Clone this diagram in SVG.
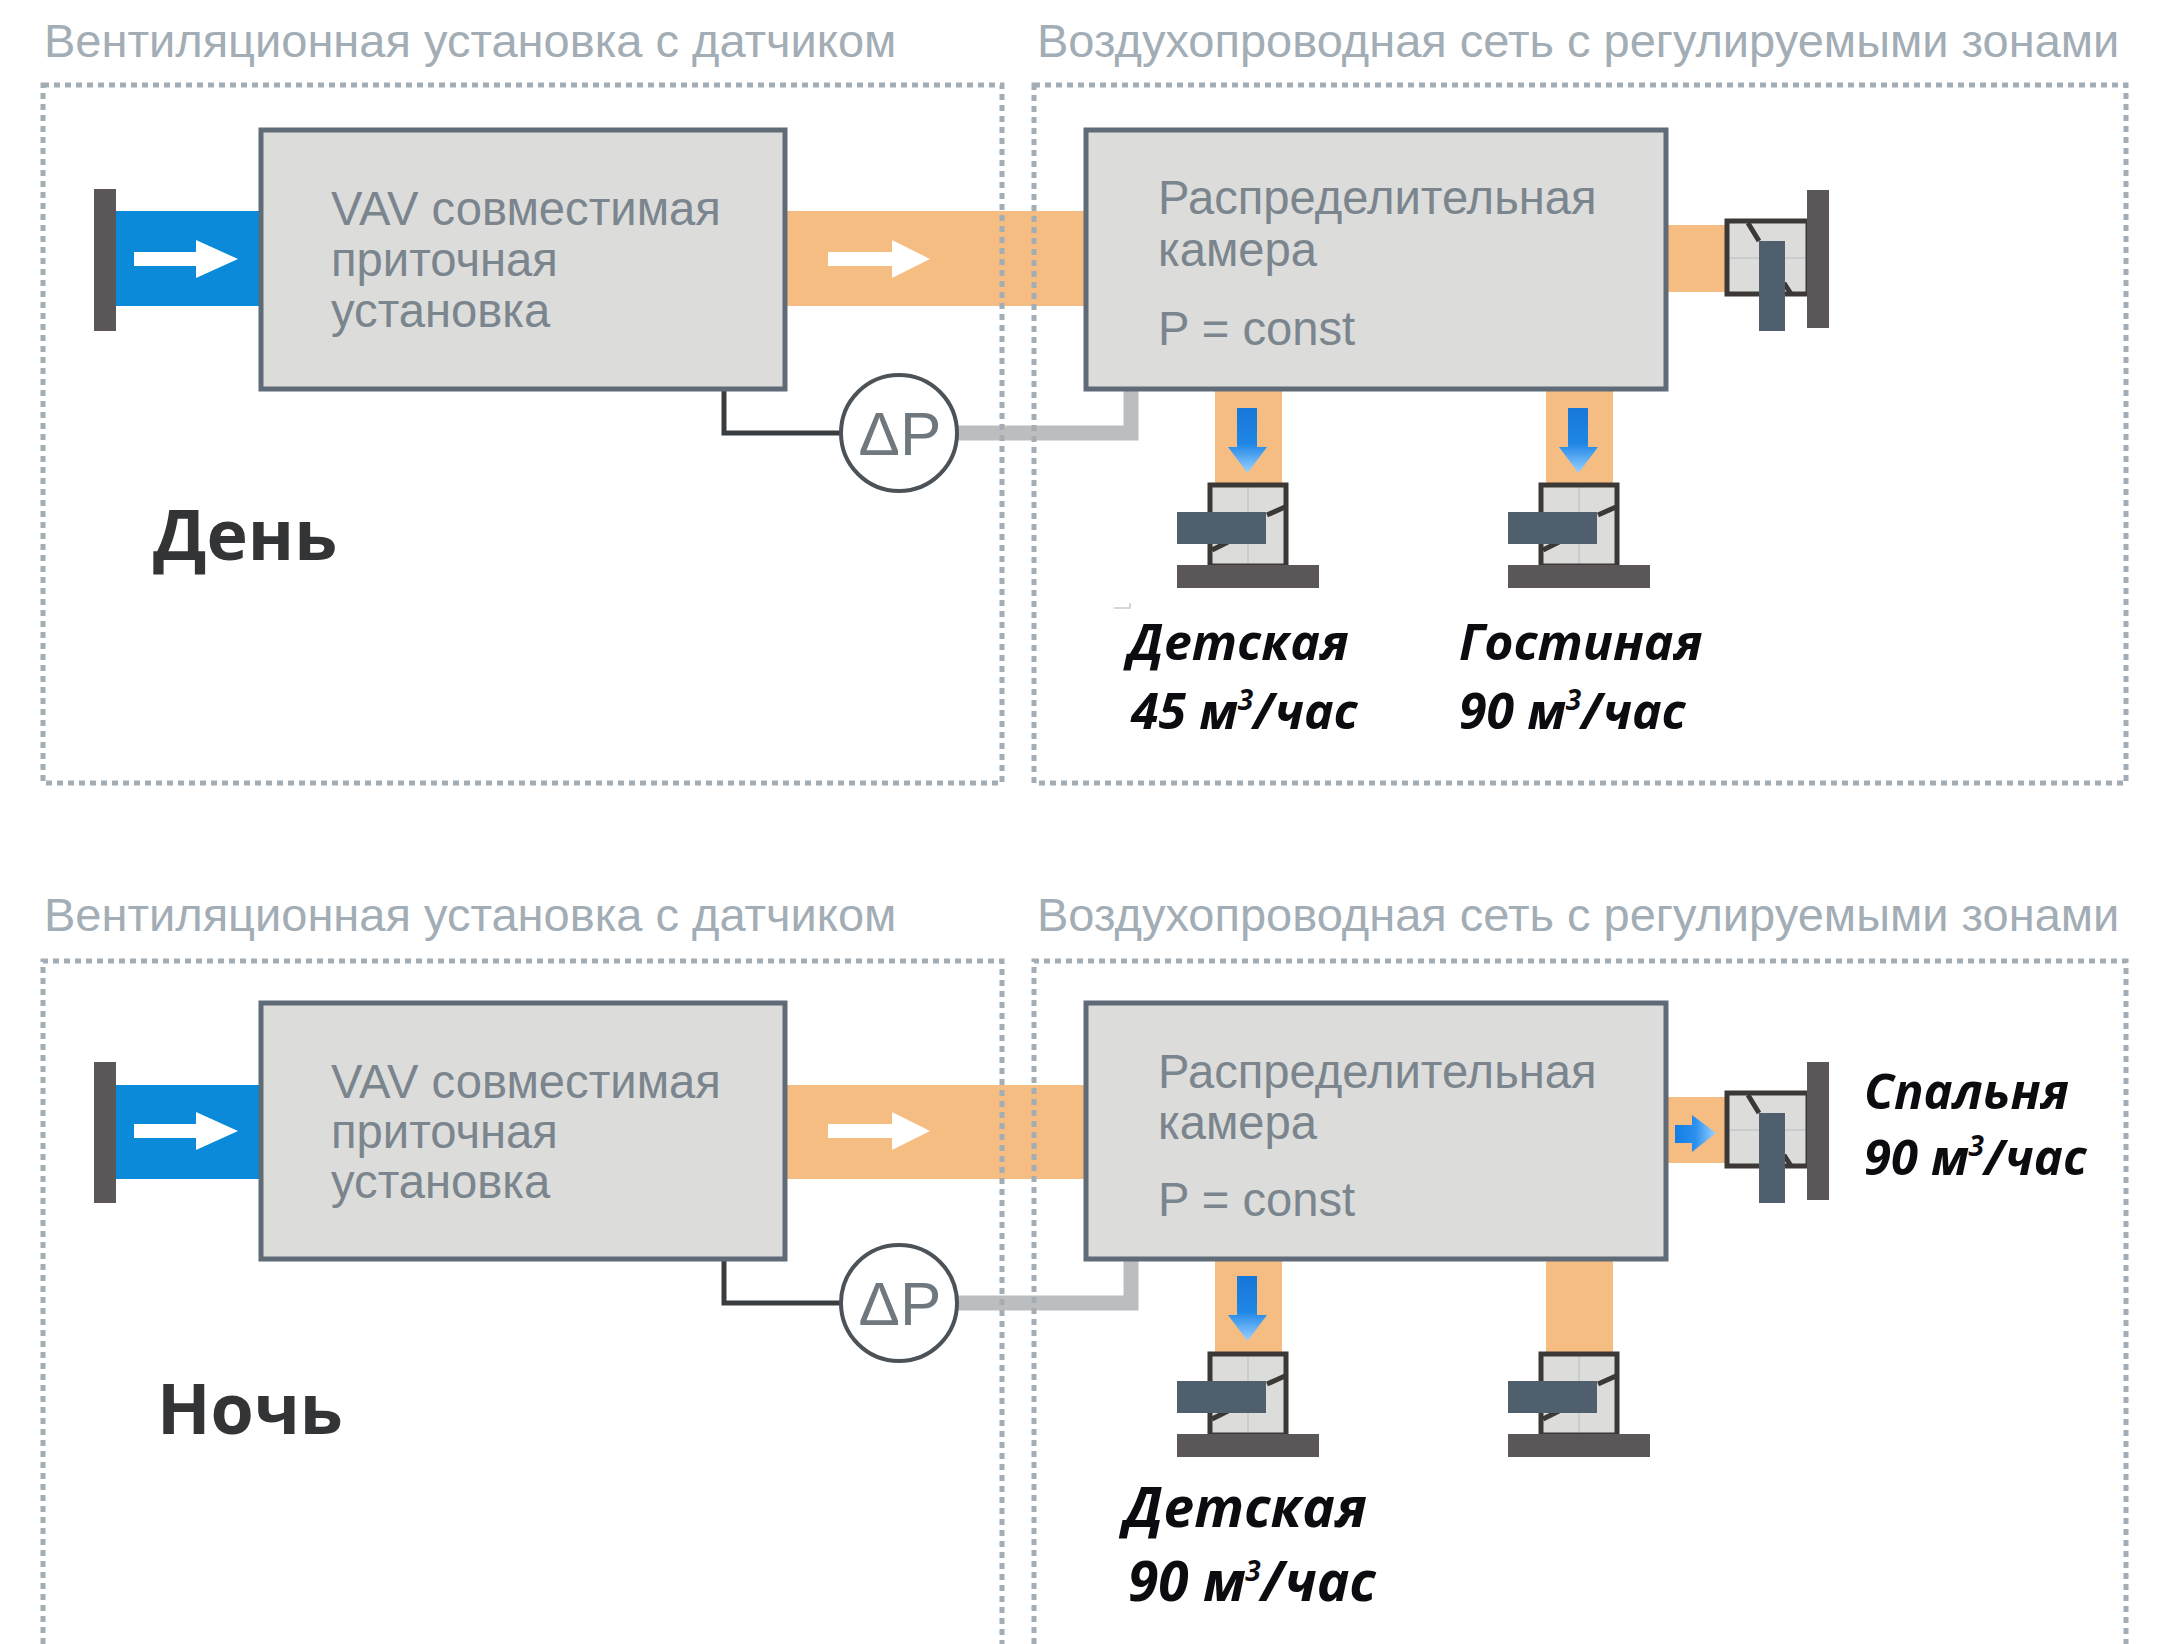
<svg xmlns="http://www.w3.org/2000/svg" width="2162" height="1644" viewBox="0 0 2162 1644">
<style>
.title{font:400 47px "Liberation Sans",Arial,sans-serif;fill:#a2adb5}
.box{fill:#dcdcdb;stroke:#5f6b76;stroke-width:5}
.lbl{font:400 47.2px "Liberation Sans",Arial,sans-serif;fill:#7b858d}
.dot{fill:none;stroke:#a3adb5;stroke-width:5;stroke-dasharray:6 5}
.orange{fill:#f5bd82}
.wall{fill:#5b5759}
.blade{fill:#4f5f6e}
.dp{font:400 62px "Liberation Sans",Arial,sans-serif;fill:#6f787f}
.mode{font:700 70px "Open Sans","Noto Sans",sans-serif;fill:#333436}
.room{font:italic 700 50px "Open Sans","Noto Sans",sans-serif;fill:#0c0c10}
.big{font-size:55px}
.side{font-size:49px}
.sup{font-size:28px}
.dline{fill:none;stroke:#3b3836;stroke-width:5}
.thin{fill:none;stroke:#c4c6c8;stroke-width:1.5}
</style>
<defs>
<linearGradient id="gd" x1="0" y1="0" x2="0" y2="1"><stop offset="0" stop-color="#1677d8"/><stop offset="0.55" stop-color="#1f86e6"/><stop offset="1" stop-color="#9ad2ff"/></linearGradient>
<linearGradient id="gr" x1="0" y1="0" x2="1" y2="0"><stop offset="0" stop-color="#127ee6"/><stop offset="0.5" stop-color="#2b90ee"/><stop offset="1" stop-color="#9ad2ff"/></linearGradient>
<g id="damperDown">
<rect x="0" y="0" width="76" height="81" fill="#dcdcdb"/>
<path class="thin" d="M38 0V81"/>
<rect x="0" y="0" width="76" height="81" class="dline"/>
<path class="dline" d="M57 30L75 22M2 65L18 57"/>
<rect x="-33" y="27" width="89" height="32" class="blade"/>
<rect x="-33" y="80" width="142" height="23" class="wall"/>
</g>
<g id="damperRight">
<rect x="0" y="0" width="81" height="73" fill="#dcdcdb"/>
<path class="thin" d="M0 37H81"/>
<rect x="0" y="0" width="81" height="73" class="dline"/>
<path class="dline" d="M21 2L32 20M57 62L64 73"/>
<rect x="32" y="20" width="26" height="90" class="blade"/>
<rect x="80" y="-31" width="22" height="138" class="wall"/>
</g>
<polygon id="arrowDown" points="9,0 29,0 29,39 39,39 19.5,65 0,39 9,39" fill="url(#gd)"/>
<polygon id="arrowRight" points="0,10 17,10 17,0 41,18 17,37 17,28 0,28" fill="url(#gr)"/>
</defs>
<rect width="2162" height="1644" fill="#fff"/>

<g id="connectors">
<g id="ducts-day">
<rect x="116" y="211" width="145" height="95" fill="#0a8ad8"/>
<rect class="orange" x="785" y="211" width="300" height="95"/>
<rect class="orange" x="1668" y="225" width="58" height="67"/>
<rect class="orange" x="1215" y="389" width="67" height="96"/>
<rect class="orange" x="1546" y="389" width="67" height="96"/>
<path d="M724 389V433H841" fill="none" stroke="#3a3d40" stroke-width="5"/>
<path d="M958 433H1131V389" fill="none" stroke="#bcbdbe" stroke-width="15"/>
</g>
<g id="ducts-night">
<rect x="116" y="1085" width="145" height="94" fill="#0a8ad8"/>
<rect class="orange" x="785" y="1085" width="300" height="94"/>
<rect class="orange" x="1668" y="1097" width="58" height="66"/>
<rect class="orange" x="1215" y="1259" width="67" height="97"/>
<rect class="orange" x="1546" y="1259" width="67" height="97"/>
<path d="M724 1259V1303H841" fill="none" stroke="#3a3d40" stroke-width="5"/>
<path d="M958 1303H1131V1259" fill="none" stroke="#bcbdbe" stroke-width="15"/>
</g>
</g>

<g id="frames">
<rect class="dot" x="43" y="85" width="959" height="698"/>
<rect class="dot" x="1034" y="85" width="1092" height="698"/>
<path class="dot" d="M43 1644V961H1002V1644"/>
<path class="dot" d="M1034 1644V961H2126V1644"/>
</g>

<g id="day-intake"><rect class="wall" x="94" y="189" width="22" height="142"/><polygon fill="#fff" points="134,252 196,252 196,240 238,259 196,278 196,266 134,266"/></g>
<g id="day-ahu"><rect class="box" x="261" y="130" width="524" height="259"/>
<text class="lbl" x="331" y="225">VAV совместимая</text><text class="lbl" x="331" y="276">приточная</text><text class="lbl" x="331" y="327">установка</text></g>
<polygon id="day-flow" fill="#fff" points="828,252 892,252 892,240 930,259 892,278 892,266 828,266"/>
<g id="day-plenum"><rect class="box" x="1086" y="130" width="580" height="259"/>
<text class="lbl" x="1158" y="214">Распределительная</text><text class="lbl" x="1158" y="266">камера</text><text class="lbl" x="1158" y="345">P = const</text></g>
<g id="day-sensor"><circle cx="899" cy="433" r="58" fill="#fff" stroke="#4b5258" stroke-width="4"/><text class="dp" x="900" y="455" text-anchor="middle">ΔP</text></g>
<use id="day-damper-right" href="#damperRight" x="1727" y="221"/>
<use id="day-damper-1" href="#damperDown" x="1210" y="485"/>
<use id="day-damper-2" href="#damperDown" x="1541" y="485"/>
<use id="day-arrow-1" href="#arrowDown" x="1228" y="408"/>
<use id="day-arrow-2" href="#arrowDown" x="1559" y="408"/>
<path id="day-mark" d="M1114 608H1130V603" fill="none" stroke="#c9c9c9" stroke-width="1.5"/>

<g id="day-titles"><text class="title" x="44" y="57">Вентиляционная установка с датчиком</text><text class="title" x="1037" y="57">Воздухопроводная сеть с регулируемыми зонами</text></g>
<text id="day-mode" class="mode" x="153" y="560">День</text>
<g id="day-room-1"><text class="room" x="1128" y="660">Детская</text><text class="room" x="1131" y="729">45 м<tspan class="sup" dy="-19">3</tspan><tspan dy="19">/час</tspan></text></g>
<g id="day-room-2"><text class="room" x="1459" y="660">Гостиная</text><text class="room" x="1459" y="729">90 м<tspan class="sup" dy="-19">3</tspan><tspan dy="19">/час</tspan></text></g>

<g id="night-intake"><rect class="wall" x="94" y="1062" width="22" height="141"/><polygon fill="#fff" points="134,1124 196,1124 196,1112 238,1131 196,1150 196,1138 134,1138"/></g>
<g id="night-ahu"><rect class="box" x="261" y="1003" width="524" height="256"/>
<text class="lbl" x="331" y="1098">VAV совместимая</text><text class="lbl" x="331" y="1148">приточная</text><text class="lbl" x="331" y="1198">установка</text></g>
<polygon id="night-flow" fill="#fff" points="828,1124 892,1124 892,1112 930,1131 892,1150 892,1138 828,1138"/>
<g id="night-plenum"><rect class="box" x="1086" y="1003" width="580" height="256"/>
<text class="lbl" x="1158" y="1088">Распределительная</text><text class="lbl" x="1158" y="1139">камера</text><text class="lbl" x="1158" y="1216">P = const</text></g>
<g id="night-sensor"><circle cx="899" cy="1303" r="58" fill="#fff" stroke="#4b5258" stroke-width="4"/><text class="dp" x="900" y="1325" text-anchor="middle">ΔP</text></g>
<use id="night-damper-right" href="#damperRight" x="1727" y="1093"/>
<use id="night-damper-1" href="#damperDown" x="1210" y="1354"/>
<use id="night-damper-2" href="#damperDown" x="1541" y="1354"/>
<use id="night-arrow-1" href="#arrowDown" x="1228" y="1276"/>
<use id="night-arrow-right" href="#arrowRight" x="1675" y="1115"/>

<g id="night-titles"><text class="title" x="44" y="931">Вентиляционная установка с датчиком</text><text class="title" x="1037" y="931">Воздухопроводная сеть с регулируемыми зонами</text></g>
<text id="night-mode" class="mode" x="157" y="1434">Ночь</text>
<g id="night-room-1"><text class="room big" x="1124" y="1527">Детская</text><text class="room big" x="1128" y="1601">90 м<tspan class="sup" dy="-20">3</tspan><tspan dy="20">/час</tspan></text></g>
<g id="night-room-3"><text class="room side" x="1864" y="1109">Спальня</text><text class="room side" x="1864" y="1175">90 м<tspan class="sup" dy="-19">3</tspan><tspan dy="19">/час</tspan></text></g>
</svg>
